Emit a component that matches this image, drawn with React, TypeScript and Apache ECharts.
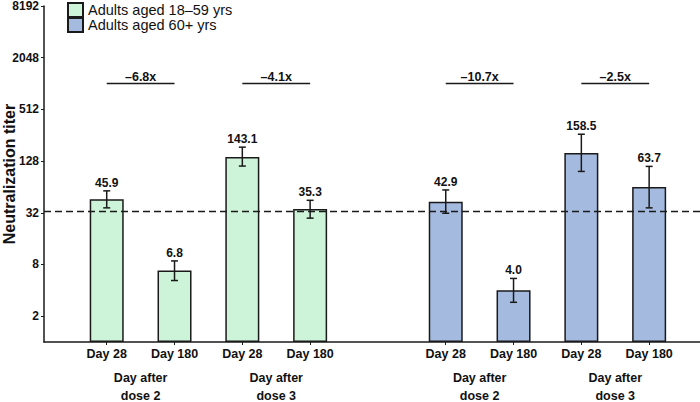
import React, { useEffect, useRef } from 'react';
import * as echarts from 'echarts';

// ---- data ----
const dayLabels = ['Day 28', 'Day 180'];
const doseLabels = ['dose 2', 'dose 3'];
const groupNames = ['Adults aged 18–59 yrs', 'Adults aged 60+ yrs'];
const youngTiters = [45.9, 6.8, 143.1, 35.3];
const youngLow = [36.5, 5.2, 112, 27.7];
const youngHigh = [57.6, 8.8, 186, 44.7];
const olderTiters = [42.9, 4.0, 158.5, 63.7];
const olderLow = [31.6, 2.9, 97, 36.5];
const olderHigh = [59, 5.5, 263, 111];
const foldChanges = ['–6.8x', '–4.1x', '–10.7x', '–2.5x'];
const yTickTiters = [2, 8, 32, 128, 512, 2048, 8192];
const yMinTiter = 1;
const yMaxTiter = 8192;
const thresholdTiter = 33;
const bracketTiter = 1024;

// ---- styling ----
const FONT = '"Liberation Sans", Arial, Helvetica, sans-serif';
const INK = '#1a1a1a';
const colors = ['#cdf3d8', '#a4badf'];

const lg = (v: number) => Math.log2(v);
const slotsPerGroup = 5;
const slotOf = (g: number, i: number) => g * slotsPerGroup + i;

const titers = [youngTiters, olderTiters];
const lows = [youngLow, olderLow];
const highs = [youngHigh, olderHigh];

const barSlots: number[] = [];
const errData: number[][] = [];
const errLabels: string[] = [];
titers.forEach((arr, g) =>
  arr.forEach((v, i) => {
    barSlots.push(slotOf(g, i));
    errData.push([slotOf(g, i), lg(lows[g][i]), lg(highs[g][i])]);
    errLabels.push(v.toFixed(1));
  })
);
const bracketData: number[][] = [];
[0, 1].forEach((g) =>
  [0, 1].forEach((k) => bracketData.push([slotOf(g, 2 * k), slotOf(g, 2 * k + 1), lg(bracketTiter)]))
);
const groupLabelSlots: number[] = [];
[0, 1].forEach((g) => [0, 1].forEach((k) => groupLabelSlots.push(slotOf(g, 2 * k) + 0.5)));

const xMin = -0.925;
const xMax = 8.75;

export default function App() {
  const ref = useRef<HTMLDivElement>(null);
  useEffect(() => {
    document.body.style.margin = '0';
    const chart = echarts.init(ref.current!, null, { renderer: 'svg' });
    const xBase = {
      type: 'value',
      min: xMin,
      max: xMax,
      position: 'bottom',
      gridIndex: 0,
      splitLine: { show: false },
    };
    const option: any = {
      animation: false,
      textStyle: { fontFamily: FONT },
      grid: { left: 44, right: 0, top: 6, bottom: 60, containLabel: false, outerBoundsMode: 'none' },
      legend: {
        data: groupNames,
        orient: 'vertical',
        left: 67,
        top: 2,
        padding: 0,
        icon: 'rect',
        itemWidth: 15,
        itemHeight: 14,
        itemGap: -1,
        textStyle: { fontSize: 14.5, color: '#111', fontFamily: FONT, lineHeight: 15 },
      },
      xAxis: [
        {
          ...xBase,
          axisLine: { show: true, onZero: false, lineStyle: { color: INK, width: 1.5 } },
          axisTick: { show: true, length: 3, customValues: barSlots, lineStyle: { color: INK, width: 1 } },
          axisLabel: {
            customValues: barSlots,
            margin: 5,
            fontSize: 12.5,
            fontWeight: 'bold',
            color: '#111',
            fontFamily: FONT,
            formatter: (v: number) => dayLabels[Math.round(v) % slotsPerGroup % 2],
          },
        },
        {
          ...xBase,
          axisLine: { show: false, onZero: false },
          axisTick: { show: false },
          axisLabel: {
            customValues: groupLabelSlots,
            margin: 27,
            fontSize: 12.5,
            lineHeight: 18,
            fontWeight: 'bold',
            color: '#111',
            fontFamily: FONT,
            formatter: (v: number) => {
              const k = Math.round((Math.round(v - 0.5) % slotsPerGroup) / 2);
              return 'Day after\n' + doseLabels[k];
            },
          },
        },
      ],
      yAxis: {
        type: 'value',
        min: lg(yMinTiter),
        max: lg(yMaxTiter),
        name: 'Neutralization titer',
        nameLocation: 'middle',
        nameGap: 27,
        nameMoveOverlap: false,
        nameTextStyle: { fontSize: 16, fontWeight: 'bold', color: '#111', fontFamily: FONT },
        splitLine: { show: false },
        axisLine: { show: true, onZero: false, lineStyle: { color: INK, width: 1.5 } },
        axisTick: { show: true, length: 3, customValues: yTickTiters.map(lg), lineStyle: { color: INK, width: 1 } },
        axisLabel: {
          customValues: yTickTiters.map(lg),
          margin: 5,
          fontSize: 12,
          fontWeight: 'bold',
          color: '#111',
          fontFamily: FONT,
          formatter: (v: number) => String(Math.round(Math.pow(2, v))),
        },
      },
      series: [
        ...titers.map((arr, g) => ({
          name: groupNames[g],
          type: 'bar',
          barWidth: 34,
          barGap: '-100%',
          xAxisIndex: 0,
          yAxisIndex: 0,
          itemStyle: { color: colors[g], borderColor: INK, borderWidth: 1.5 },
          data: arr.map((v, i) => [slotOf(g, i), lg(v)]),
          markLine:
            g === 0
              ? {
                  silent: true,
                  symbol: ['none', 'none'],
                  label: { show: false },
                  lineStyle: { type: [7, 4], color: INK, width: 1.3 },
                  data: [{ yAxis: lg(thresholdTiter) }],
                }
              : undefined,
        })),
        {
          type: 'custom',
          xAxisIndex: 0,
          yAxisIndex: 0,
          encode: { x: 0, y: [1, 2] },
          data: errData,
          z: 4,
          renderItem: (params: any, api: any) => {
            const x = api.value(0);
            const pLo = api.coord([x, api.value(1)]);
            const pHi = api.coord([x, api.value(2)]);
            const cap = 3.5;
            const st = { stroke: INK, lineWidth: 1.5 };
            return {
              type: 'group',
              children: [
                { type: 'line', shape: { x1: pLo[0], y1: pLo[1], x2: pHi[0], y2: pHi[1] }, style: st },
                { type: 'line', shape: { x1: pLo[0] - cap, y1: pLo[1], x2: pLo[0] + cap, y2: pLo[1] }, style: st },
                { type: 'line', shape: { x1: pHi[0] - cap, y1: pHi[1], x2: pHi[0] + cap, y2: pHi[1] }, style: st },
                {
                  type: 'text',
                  x: pHi[0],
                  y: pHi[1] - 8,
                  style: {
                    text: errLabels[params.dataIndex],
                    fill: '#111',
                    fontSize: 12,
                    fontWeight: 'bold',
                    fontFamily: FONT,
                    align: 'center',
                    verticalAlign: 'middle',
                  },
                },
              ],
            };
          },
        },
        {
          type: 'custom',
          xAxisIndex: 0,
          yAxisIndex: 0,
          encode: { x: [0, 1], y: 2 },
          data: bracketData,
          z: 4,
          renderItem: (params: any, api: any) => {
            const p1 = api.coord([api.value(0), api.value(2)]);
            const p2 = api.coord([api.value(1), api.value(2)]);
            return {
              type: 'group',
              children: [
                { type: 'line', shape: { x1: p1[0], y1: p1[1], x2: p2[0], y2: p2[1] }, style: { stroke: INK, lineWidth: 1.5 } },
                {
                  type: 'text',
                  x: (p1[0] + p2[0]) / 2,
                  y: p1[1] - 7,
                  style: {
                    text: foldChanges[params.dataIndex],
                    fill: '#111',
                    fontSize: 12.5,
                    fontWeight: 'bold',
                    fontFamily: FONT,
                    align: 'center',
                    verticalAlign: 'middle',
                  },
                },
              ],
            };
          },
        },
      ],
    };
    chart.setOption(option);
    return () => chart.dispose();
  }, []);
  return <div ref={ref} style={{ width: 700, height: 402 }} />;
}
